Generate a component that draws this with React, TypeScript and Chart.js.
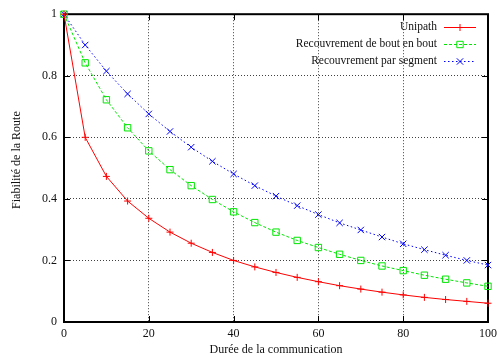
import React, { useEffect, useRef } from "react";
import { Chart, registerables } from "chart.js";

Chart.register(...registerables);

const durations = [0, 5, 10, 15, 20, 25, 30, 35, 40, 45, 50, 55, 60, 65, 70, 75, 80, 85, 90, 95, 100];
const unipath = [1, 0.6, 0.473, 0.393, 0.337, 0.292, 0.256, 0.226, 0.2, 0.179, 0.161, 0.145, 0.131, 0.118, 0.107, 0.097, 0.088, 0.08, 0.073, 0.067, 0.061];
const boutEnBout = [1, 0.842, 0.722, 0.631, 0.556, 0.495, 0.443, 0.398, 0.358, 0.323, 0.292, 0.265, 0.242, 0.22, 0.2, 0.182, 0.167, 0.152, 0.139, 0.127, 0.116];
const parSegment = [1, 0.9, 0.815, 0.741, 0.676, 0.619, 0.568, 0.522, 0.481, 0.443, 0.409, 0.378, 0.349, 0.322, 0.299, 0.276, 0.254, 0.235, 0.217, 0.2, 0.185];
const seriesLabels = ["Unipath", "Recouvrement de bout en bout", "Recouvrement par segment"];
const xTicks = [0, 20, 40, 60, 80, 100];
const yTicks = [0, 0.2, 0.4, 0.6, 0.8, 1];
const xTitle = "Durée de la communication";
const yTitle = "Fiabilité de la Route";

const FONT = "'Liberation Serif', 'Times New Roman', serif";
const COLORS = ["#ff0000", "#00e600", "#0000ff"];
const DASHES = [[], [3, 2], [1.5, 2.5]];
const STYLES = ["cross", "rect", "crossRot"];

function drawMarker(ctx: CanvasRenderingContext2D, style: string, x: number, y: number) {
  ctx.beginPath();
  if (style === "cross") {
    ctx.moveTo(x - 3.5, y);
    ctx.lineTo(x + 3.5, y);
    ctx.moveTo(x, y - 3.5);
    ctx.lineTo(x, y + 3.5);
  } else if (style === "rect") {
    ctx.rect(x - 3.2, y - 3.2, 6.4, 6.4);
  } else {
    ctx.moveTo(x - 3.2, y - 3.2);
    ctx.lineTo(x + 3.2, y + 3.2);
    ctx.moveTo(x - 3.2, y + 3.2);
    ctx.lineTo(x + 3.2, y - 3.2);
  }
  ctx.stroke();
}

const framePlugin = {
  id: "gnuplotFrame",
  beforeDatasetsDraw(chart: any) {
    const { ctx, chartArea } = chart;
    const { left, right, top, bottom } = chartArea;
    const xs = chart.scales.x;
    const ys = chart.scales.y;
    ctx.save();
    ctx.strokeStyle = "#000";
    ctx.lineWidth = 1;
    const tl = 6;
    ctx.beginPath();
    for (const v of xTicks) {
      const px = Math.round(xs.getPixelForValue(v)) + 0.5;
      ctx.moveTo(px, bottom);
      ctx.lineTo(px, bottom - tl);
      ctx.moveTo(px, top);
      ctx.lineTo(px, top + tl);
    }
    for (const v of yTicks) {
      const py = Math.round(ys.getPixelForValue(v)) + 0.5;
      ctx.moveTo(left, py);
      ctx.lineTo(left + tl, py);
      ctx.moveTo(right, py);
      ctx.lineTo(right - tl, py);
    }
    ctx.stroke();
    ctx.lineWidth = 2;
    ctx.strokeRect(left, top, right - left, bottom - top);
    ctx.restore();
  },
  afterDraw(chart: any) {
    const { ctx, chartArea } = chart;
    ctx.save();
    // y-axis title
    ctx.font = "12px " + FONT;
    ctx.fillStyle = "#111";
    ctx.textAlign = "center";
    ctx.textBaseline = "middle";
    ctx.translate(17, (chartArea.top + chartArea.bottom) / 2 - 8);
    ctx.rotate(-Math.PI / 2);
    ctx.fillText(yTitle, 0, 0);
    ctx.restore();

    ctx.save();
    ctx.font = "11.5px " + FONT;
    ctx.textAlign = "right";
    ctx.textBaseline = "middle";
    const rowsY = [27, 44, 61];
    seriesLabels.forEach((label, i) => {
      const y = rowsY[i];
      ctx.fillStyle = "#111";
      ctx.fillText(label, 437, y);
      ctx.strokeStyle = COLORS[i];
      ctx.lineWidth = 1;
      ctx.setLineDash(DASHES[i]);
      ctx.beginPath();
      ctx.moveTo(444, y + 0.5);
      ctx.lineTo(476, y + 0.5);
      ctx.stroke();
      ctx.setLineDash([]);
      drawMarker(ctx, STYLES[i], 460, y + 0.5);
    });
    ctx.restore();
  },
};

export default function App() {
  const ref = useRef<HTMLCanvasElement | null>(null);
  useEffect(() => {
    if (!ref.current) return;
    const gridColor = (c: any) =>
      c.tick && (c.tick.value === c.scale.min || c.tick.value === c.scale.max) ? "rgba(0,0,0,0)" : "rgba(0,0,0,0.75)";
    const series = [unipath, boutEnBout, parSegment];
    const chart = new Chart(ref.current, {
      type: "line",
      data: {
        datasets: series.map((vals, k) => ({
          label: seriesLabels[k],
          data: durations.map((d, i) => ({ x: d, y: vals[i] })),
          borderColor: COLORS[k],
          backgroundColor: "rgba(0,0,0,0)",
          pointBorderColor: COLORS[k],
          borderWidth: 1,
          borderDash: DASHES[k],
          pointStyle: STYLES[k],
          pointRadius: k === 0 ? 3.5 : 4.5,
          pointBorderWidth: 1,
          clip: false,
        })) as any,
      },
      options: {
        animation: false,
        responsive: false,
        events: [],
        layout: { padding: { left: 0, top: 14, right: 13, bottom: 0 } },
        plugins: { legend: { display: false }, tooltip: { enabled: false } },
        scales: {
          x: {
            type: "linear",
            min: 0,
            max: 100,
            afterBuildTicks: (s: any) => {
              s.ticks = xTicks.map((v) => ({ value: v }));
            },
            afterFit: (s: any) => {
              s.height = 36;
            },
            grid: { color: gridColor, lineWidth: 1, drawTicks: false },
            border: { display: false, dash: [1, 2] },
            ticks: { padding: 5, color: "#111", font: { family: FONT, size: 12 }, maxRotation: 0, autoSkip: false },
            title: { display: true, text: xTitle, color: "#111", font: { family: FONT, size: 12 }, padding: { top: 0, bottom: 1 } },
          },
          y: {
            type: "linear",
            min: 0,
            max: 1,
            afterBuildTicks: (s: any) => {
              s.ticks = yTicks.map((v) => ({ value: v }));
            },
            afterFit: (s: any) => {
              s.width = 64;
            },
            grid: { color: gridColor, lineWidth: 1, drawTicks: false },
            border: { display: false, dash: [1, 2] },
            ticks: {
              padding: 7,
              color: "#111",
              font: { family: FONT, size: 12 },
              callback: (v: any) => String(Number(Number(v).toFixed(1))),
            },
            title: { display: false },
          },
        },
      } as any,
      plugins: [framePlugin],
    });
    return () => chart.destroy();
  }, []);
  return (
    <div style={{ position: "absolute", left: 0, top: 0, width: 502, height: 358, background: "#fff" }}>
      <canvas ref={ref} width={502} height={358} style={{ display: "block", width: 502, height: 358 }} />
    </div>
  );
}
